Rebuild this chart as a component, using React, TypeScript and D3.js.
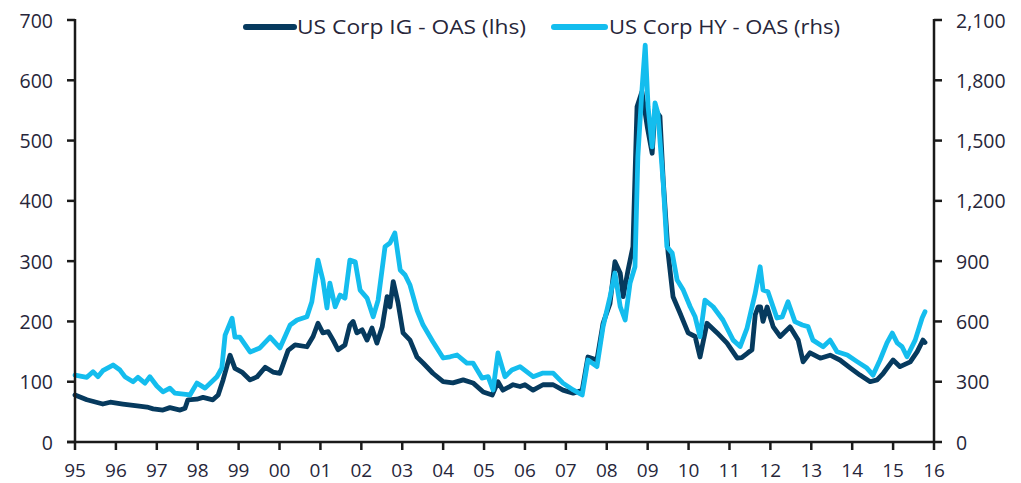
import React from "react";
import * as d3 from "d3";

const igYears = [
  1995.0, 1995.29, 1995.68, 1995.86, 1996.17, 1996.52, 1996.76, 1996.91, 1997.15, 1997.32,
  1997.57, 1997.69, 1997.76, 1997.98, 1998.13, 1998.37, 1998.5, 1998.62, 1998.79, 1998.91,
  1999.08, 1999.28, 1999.45, 1999.65, 1999.84, 2000.01, 2000.21, 2000.38, 2000.67, 2000.82,
  2000.94, 2001.06, 2001.19, 2001.31, 2001.43, 2001.6, 2001.72, 2001.8, 2001.89, 2002.02,
  2002.14, 2002.26, 2002.38, 2002.51, 2002.63, 2002.7, 2002.78, 2002.9, 2003.02, 2003.19,
  2003.36, 2003.51, 2003.75, 2004.0, 2004.24, 2004.49, 2004.73, 2004.98, 2005.2, 2005.34,
  2005.46, 2005.71, 2005.88, 2006.0, 2006.2, 2006.44, 2006.69, 2006.93, 2007.18, 2007.4,
  2007.54, 2007.76, 2007.91, 2008.08, 2008.2, 2008.33, 2008.4, 2008.52, 2008.64, 2008.74,
  2008.86, 2008.99, 2009.11, 2009.18, 2009.3, 2009.38, 2009.5, 2009.62, 2009.79, 2009.99,
  2010.16, 2010.28, 2010.45, 2010.7, 2010.94, 2011.19, 2011.3, 2011.45, 2011.55, 2011.63,
  2011.7, 2011.76, 2011.82, 2011.92, 2012.07, 2012.24, 2012.48, 2012.68, 2012.8, 2012.97,
  2013.22, 2013.46, 2013.7, 2013.95, 2014.19, 2014.44, 2014.61, 2014.76, 2015.0, 2015.17,
  2015.42, 2015.59, 2015.73, 2015.78,
];
const igValues = [
  78, 70, 63, 66, 63, 60, 58, 55, 53, 57,
  53, 56, 70, 71, 74, 70, 78, 103, 144, 122,
  116, 103, 108, 124, 116, 114, 152, 161, 158, 175,
  197, 181, 183, 169, 153, 161, 194, 200, 181, 186,
  169, 189, 164, 191, 241, 224, 266, 230, 181, 169,
  141, 131, 114, 100, 98, 103, 98, 83, 78, 100,
  86, 95, 92, 95, 86, 95, 95, 86, 81, 86,
  141, 136, 197, 230, 299, 280, 241, 285, 324, 556,
  581, 523, 479, 551, 540, 434, 313, 241, 214, 181,
  175, 141, 197, 181, 164, 139, 140, 148, 153, 211,
  224, 224, 200, 224, 191, 175, 191, 169, 133, 148,
  139, 144, 136, 123, 111, 100, 103, 114, 136, 125,
  133, 150, 169, 165,
];

const hyYears = [
  1995.0, 1995.29, 1995.44, 1995.56, 1995.68, 1995.93, 1996.1, 1996.22, 1996.42, 1996.54,
  1996.71, 1996.83, 1997.0, 1997.15, 1997.32, 1997.44, 1997.81, 1997.98, 1998.18, 1998.47,
  1998.59, 1998.67, 1998.84, 1998.91, 1999.03, 1999.28, 1999.52, 1999.77, 2000.01, 2000.26,
  2000.43, 2000.67, 2000.79, 2000.94, 2001.06, 2001.16, 2001.23, 2001.36, 2001.48, 2001.6,
  2001.72, 2001.85, 2001.97, 2002.14, 2002.29, 2002.41, 2002.58, 2002.7, 2002.82, 2002.95,
  2003.07, 2003.19, 2003.36, 2003.51, 2003.75, 2004.0, 2004.17, 2004.34, 2004.58, 2004.73,
  2004.95, 2005.1, 2005.22, 2005.34, 2005.51, 2005.68, 2005.88, 2006.2, 2006.44, 2006.69,
  2006.93, 2007.18, 2007.4, 2007.54, 2007.76, 2007.91, 2008.08, 2008.2, 2008.33, 2008.45,
  2008.57, 2008.69, 2008.76, 2008.86, 2008.94, 2009.01, 2009.11, 2009.18, 2009.25, 2009.38,
  2009.47, 2009.6, 2009.72, 2009.87, 2010.04, 2010.16, 2010.28, 2010.4, 2010.6, 2010.84,
  2011.09, 2011.26, 2011.43, 2011.63, 2011.75, 2011.82, 2011.94, 2012.16, 2012.29, 2012.43,
  2012.6, 2012.78, 2012.92, 2013.04, 2013.29, 2013.46, 2013.63, 2013.88, 2014.12, 2014.36,
  2014.51, 2014.68, 2014.85, 2014.98, 2015.1, 2015.22, 2015.34, 2015.54, 2015.71, 2015.78,
];
const hyValues = [
  333, 322, 350, 325, 355, 383, 358, 325, 300, 322,
  293, 325, 279, 250, 268, 243, 234, 293, 268, 325,
  368, 532, 616, 522, 522, 448, 468, 522, 468, 582,
  607, 623, 698, 905, 806, 667, 791, 673, 731, 716,
  905, 897, 756, 716, 623, 706, 972, 990, 1040, 856,
  831, 781, 657, 582, 499, 418, 424, 433, 393, 393,
  318, 325, 259, 443, 325, 358, 375, 325, 343, 343,
  293, 259, 234, 408, 375, 574, 723, 841, 673, 607,
  791, 872, 1419, 1751, 1975, 1668, 1469, 1687, 1637, 1289,
  972, 940, 806, 756, 673, 623, 524, 706, 673, 607,
  507, 475, 567, 741, 872, 756, 748, 617, 623, 698,
  599, 582, 574, 507, 474, 507, 449, 433, 400, 368,
  333, 408, 493, 542, 493, 474, 424, 507, 617, 648,
];

const xTickYears = d3.range(1995, 2017);
const xTickLabels = [
  "95", "96", "97", "98", "99", "00", "01", "02", "03", "04", "05",
  "06", "07", "08", "09", "10", "11", "12", "13", "14", "15", "16",
];
const leftTicks = [0, 100, 200, 300, 400, 500, 600, 700];
const rightTicks = [0, 300, 600, 900, 1200, 1500, 1800, 2100];
const legendLabels = ["US Corp IG - OAS (lhs)", "US Corp HY - OAS (rhs)"];

const W = 1021;
const H = 483;
const X0 = 75;
const X1 = 934;
const Y0 = 442;
const Y1 = 20;
const IG_COLOR = "#063a5e";
const HY_COLOR = "#14bdee";
const AXIS = "#1a1a1a";
const TEXT = "#27263a";
const FONT = "'Open Sans', sans-serif";

export default function App() {
  const x = d3.scaleLinear().domain([1995, 2016]).range([X0, X1]);
  const yL = d3.scaleLinear().domain([0, 700]).range([Y0, Y1]);
  const yR = d3.scaleLinear().domain([0, 2100]).range([Y0, Y1]);
  const fmt = d3.format(",");

  const igLine = d3
    .line<number>()
    .x((_, i) => x(igYears[i]))
    .y((d) => yL(d));
  const hyLine = d3
    .line<number>()
    .x((_, i) => x(hyYears[i]))
    .y((d) => yR(d));

  return (
    <svg
      width={W}
      height={H}
      style={{ position: "absolute", left: 0, top: 0, display: "block", background: "#fff" }}
    >
      <path d={igLine(igValues) || ""} fill="none" stroke={IG_COLOR} strokeWidth={4.8} strokeLinejoin="round" strokeLinecap="round" />
      <path d={hyLine(hyValues) || ""} fill="none" stroke={HY_COLOR} strokeWidth={4.8} strokeLinejoin="round" strokeLinecap="round" />

      {/* axes */}
      <g stroke={AXIS} strokeWidth={2.5} fill="none">
        <line x1={X0} x2={X0} y1={Y1 - 1} y2={Y0} />
        <line x1={X1} x2={X1} y1={Y1 - 1} y2={Y0} />
        <line x1={X0 - 8} x2={X1} y1={Y0} y2={Y0} />
        {leftTicks.map((t) => (
          <line key={"l" + t} x1={X0 - 8} x2={X0} y1={yL(t)} y2={yL(t)} />
        ))}
        {rightTicks.map((t) => (
          <line key={"r" + t} x1={X1} x2={X1 + 8} y1={yR(t)} y2={yR(t)} />
        ))}
        {xTickYears.map((t) => (
          <line key={"x" + t} x1={x(t)} x2={x(t)} y1={Y0} y2={Y0 + 8} />
        ))}
      </g>

      <g fontFamily={FONT} fontSize={19.5} fill={TEXT}>
        {leftTicks.map((t) => (
          <text key={"lt" + t} x={53} y={yL(t)} textAnchor="end" dominantBaseline="central">
            {t}
          </text>
        ))}
        {rightTicks.map((t) => (
          <text key={"rt" + t} x={956} y={yR(t)} textAnchor="start" dominantBaseline="central">
            {fmt(t)}
          </text>
        ))}
      </g>
      <g fontFamily={FONT} fontSize={19} fill={TEXT}>
        {xTickYears.map((t, i) => (
          <text key={"xt" + t} x={x(t)} y={476.5} textAnchor="middle">
            {xTickLabels[i]}
          </text>
        ))}
      </g>

      {/* legend */}
      <g fontFamily={FONT} fontSize={20} fill={TEXT}>
        <line x1={246} x2={294} y1={27} y2={27} stroke={IG_COLOR} strokeWidth={6} strokeLinecap="round" />
        <text x={297} y={34} textLength={229} lengthAdjust="spacingAndGlyphs">{legendLabels[0]}</text>
        <line x1={554} x2={605} y1={27} y2={27} stroke={HY_COLOR} strokeWidth={6} strokeLinecap="round" />
        <text x={609} y={34} textLength={231} lengthAdjust="spacingAndGlyphs">{legendLabels[1]}</text>
      </g>
    </svg>
  );
}
